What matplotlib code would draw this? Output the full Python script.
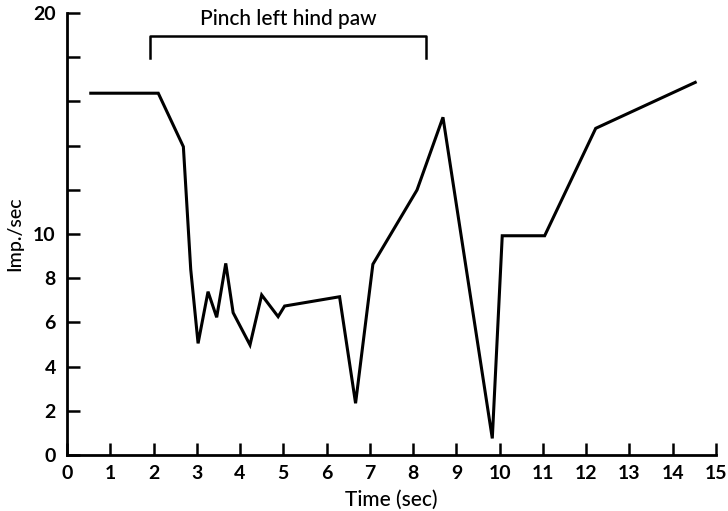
import matplotlib.pyplot as plt

plt.rcParams['font.family'] = ['Lato', 'DejaVu Sans']

# Discharge rate of the unit over time
time_sec = [0.55, 2.11, 2.69, 2.86, 3.03, 3.26, 3.46, 3.67, 3.84, 4.23, 4.50,
            4.88, 5.03, 6.30, 6.67, 7.07, 8.09, 8.69, 9.83, 10.06, 11.04,
            12.22, 14.52]
imp_per_sec = [16.37, 16.37, 13.95, 8.4, 5.05, 7.39, 6.23, 8.67, 6.44, 4.98,
               7.24, 6.26, 6.74, 7.16, 2.34, 8.63, 11.99, 15.28, 0.75, 9.92,
               9.92, 14.78, 16.86]

# Stimulus period
pinch_start, pinch_end = 1.92, 8.29
pinch_label = 'Pinch left hind paw'

x_ticks = list(range(0, 16))
y_ticks = list(range(0, 21, 2))
y_tick_labels = ['0', '2', '4', '6', '8', '10', '', '', '', '', '20']

fig = plt.figure(figsize=(7.28, 5.11), dpi=100)
ax = fig.add_axes([0.092, 0.1096, 0.8915, 0.865])

ax.plot(time_sec, imp_per_sec, color='black', linewidth=2.2,
        solid_joinstyle='miter')

# Bracket marking the pinch
ax.plot([pinch_start, pinch_start, pinch_end, pinch_end],
        [17.95, 18.95, 18.95, 17.95], color='black', linewidth=1.8,
        clip_on=False)
ax.text((pinch_start + pinch_end) / 2, 19.75, pinch_label, ha='center',
        va='center', fontsize=15, fontweight='medium')

ax.set_xlim(0, 15)
ax.set_ylim(0, 20)
ax.set_xticks(x_ticks)
ax.set_yticks(y_ticks)
ax.set_yticklabels(y_tick_labels)

for side in ['top', 'right']:
    ax.spines[side].set_visible(False)
for side in ['left', 'bottom']:
    ax.spines[side].set_linewidth(2.0)

ax.tick_params(axis='both', direction='in', length=9, width=1.8,
               labelsize=14, pad=7)
ax.tick_params(axis='y', pad=8)
for lbl in ax.get_xticklabels() + ax.get_yticklabels():
    lbl.set_fontweight('bold')

ax.set_xlabel('Time (sec)', fontsize=15, fontweight='medium', labelpad=6)
ax.set_ylabel('Imp./sec', fontsize=14, fontweight='medium', labelpad=7)

fig.savefig('out.png', dpi=100)
